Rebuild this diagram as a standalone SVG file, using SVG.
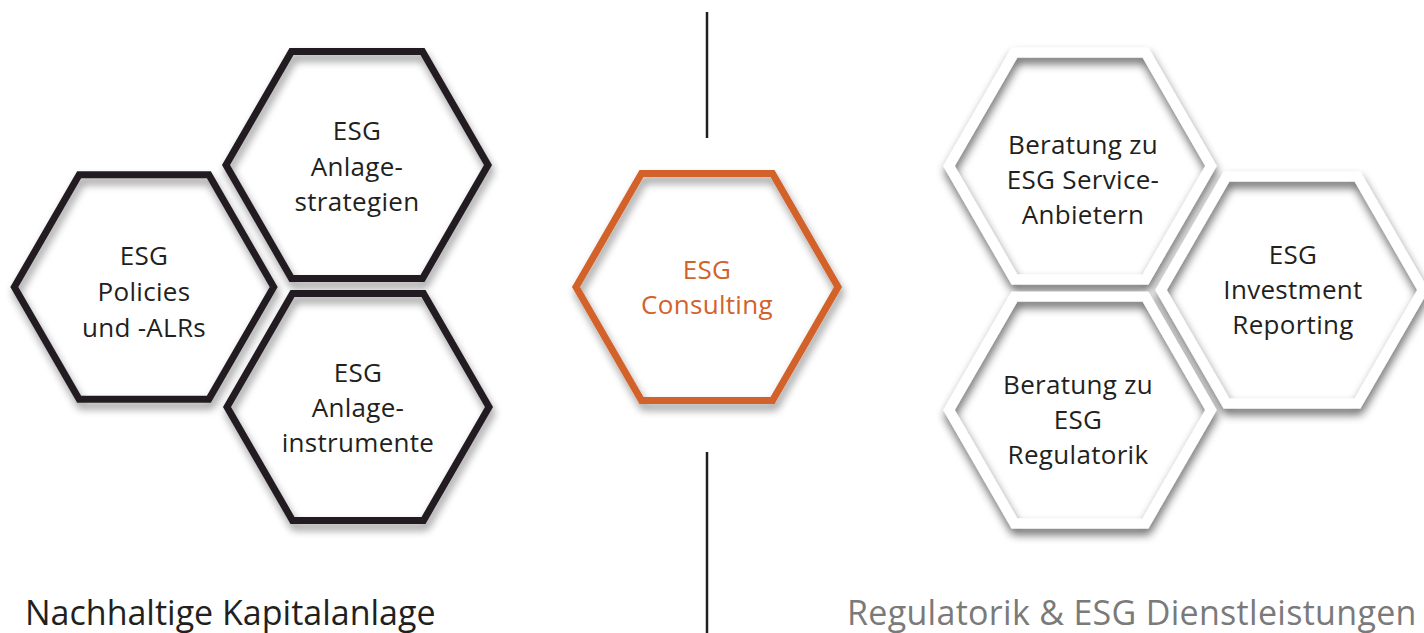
<svg xmlns="http://www.w3.org/2000/svg" width="1424" height="633" viewBox="0 0 1424 633">
  <style>
    .lbl { font-family: "Open Sans", "Noto Sans", sans-serif; font-size: 26px; letter-spacing: 0.3px; text-anchor: middle; fill: #231f20; }
    .org { fill: #d2622b; }
    .title { font-family: "Open Sans", "Noto Sans", sans-serif; font-size: 34px; fill: #231f20; }
    .title.grey { fill: #7a7a7a; letter-spacing: 0.3px; }
    .hexb { fill: none; stroke: #231f20; stroke-width: 7; stroke-linejoin: miter; }
    .hexo { fill: none; stroke: #d2622b; stroke-width: 7; stroke-linejoin: miter; }
    .hexw { fill: none; stroke: #ffffff; stroke-width: 10; stroke-linejoin: miter; }
    .sep { stroke: #231f20; stroke-width: 2.5; }
  </style>
  <defs>
    <polygon id="hex" points="-131,0 -65.5,-113.4 65.5,-113.4 131,0 65.5,113.4 -65.5,113.4"/>
    <filter id="sh" x="-20%" y="-20%" width="140%" height="140%">
      <feGaussianBlur in="SourceAlpha" stdDeviation="4.5"/>
      <feOffset dx="2" dy="6" result="b"/>
      <feComponentTransfer><feFuncA type="linear" slope="0.42"/></feComponentTransfer>
      <feMerge><feMergeNode/><feMergeNode in="SourceGraphic"/></feMerge>
    </filter>
    <filter id="shw" x="-20%" y="-20%" width="140%" height="140%">
      <feGaussianBlur in="SourceAlpha" stdDeviation="5"/>
      <feOffset dx="1" dy="6" result="b"/>
      <feComponentTransfer><feFuncA type="linear" slope="0.6"/></feComponentTransfer>
      <feMerge><feMergeNode/><feMergeNode in="SourceGraphic"/></feMerge>
    </filter>
  </defs>
  <rect width="1424" height="633" fill="#ffffff"/>

  <g id="connectors">
    <line class="sep" x1="707" y1="12" x2="707" y2="138"/>
    <line class="sep" x1="707" y1="452" x2="707" y2="633"/>
  </g>

  <g id="node-policies">
    <use href="#hex" class="hexb" transform="translate(144,287) scale(0.99)" filter="url(#sh)"/>
    <text class="lbl"><tspan x="144" y="265">ESG</tspan><tspan x="144" y="301">Policies</tspan><tspan x="144" y="337">und -ALRs</tspan></text>
  </g>
  <g id="node-strategien">
    <use href="#hex" class="hexb" transform="translate(357,165)" filter="url(#sh)"/>
    <text class="lbl"><tspan x="357" y="140">ESG</tspan><tspan x="357" y="176">Anlage-</tspan><tspan x="357" y="211">strategien</tspan></text>
  </g>
  <g id="node-instrumente">
    <use href="#hex" class="hexb" transform="translate(358,407)" filter="url(#sh)"/>
    <text class="lbl"><tspan x="358" y="382">ESG</tspan><tspan x="358" y="417">Anlage-</tspan><tspan x="358" y="452">instrumente</tspan></text>
  </g>
  <g id="node-consulting">
    <use href="#hex" class="hexo" transform="translate(707,287)" filter="url(#sh)"/>
    <text class="lbl org"><tspan x="707" y="279">ESG</tspan><tspan x="707" y="314">Consulting</tspan></text>
  </g>
  <g id="node-service">
    <use href="#hex" class="hexw" transform="translate(1080,166)" filter="url(#shw)"/>
    <text class="lbl"><tspan x="1083" y="154">Beratung zu</tspan><tspan x="1083" y="189">ESG Service-</tspan><tspan x="1083" y="224">Anbietern</tspan></text>
  </g>
  <g id="node-reporting">
    <use href="#hex" class="hexw" transform="translate(1292,290)" filter="url(#shw)"/>
    <text class="lbl"><tspan x="1293" y="264">ESG</tspan><tspan x="1293" y="299">Investment</tspan><tspan x="1293" y="334">Reporting</tspan></text>
  </g>
  <g id="node-regulatorik">
    <use href="#hex" class="hexw" transform="translate(1080,410)" filter="url(#shw)"/>
    <text class="lbl"><tspan x="1078" y="394">Beratung zu</tspan><tspan x="1078" y="429">ESG</tspan><tspan x="1078" y="464">Regulatorik</tspan></text>
  </g>

  <g id="titles">
    <text class="title" x="25" y="625">Nachhaltige Kapitalanlage</text>
    <text class="title grey" x="847" y="625">Regulatorik &amp; ESG Dienstleistungen</text>
  </g>
</svg>
